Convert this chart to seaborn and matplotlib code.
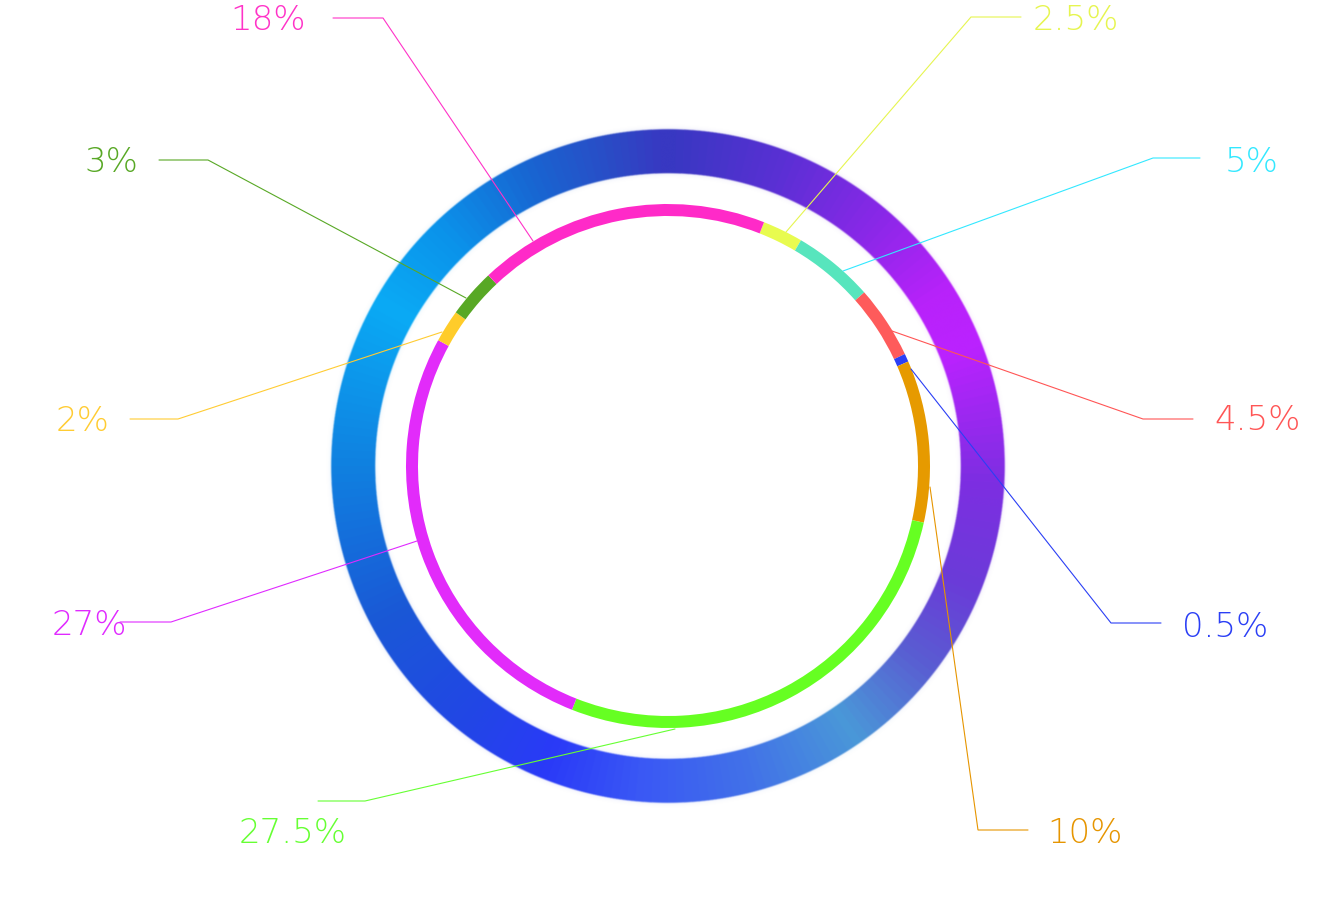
import numpy as np
import matplotlib
matplotlib.use("Agg")
import matplotlib.pyplot as plt
import seaborn as sns
from matplotlib.colors import LinearSegmentedColormap

# ---------------- data ----------------
labels = ["2.5%", "5%", "4.5%", "0.5%", "10%", "27.5%", "27%", "2%", "3%", "18%"]
values = [2.5, 5, 4.5, 0.5, 10, 27.5, 27, 2, 3, 18]
seg_colors = ["#e8fb4f", "#57e5bd", "#fe5b5b", "#2b3ff5", "#e69a00",
              "#66ff22", "#e22bfa", "#ffcc2a", "#58a825", "#ff2ac8"]
label_colors = ["#e6f550", "#33e8ff", "#ff5555", "#2b3ff5", "#e69500",
                "#66ff33", "#e02aff", "#ffcc33", "#58a825", "#ff33c8"]

# ---------------- layout (pixel space, y down) ----------------
W, H = 1341, 907
CX, CY = 668, 466
R_IN, W_IN = 262, 12
R_OUT, W_OUT = 337, 44
START_CW = 21.5  # first slice starts this many degrees clockwise from top

leader_paths = [
    [(786, 232), (971, 17), (1021, 17)],
    [(843, 271), (1153, 158), (1200, 158)],
    [(892, 331), (1143, 419), (1193, 419)],
    [(911, 369), (1111, 623), (1161, 623)],
    [(930, 487), (978, 830), (1028, 830)],
    [(675, 729), (365, 801), (318, 801)],
    [(417, 541), (171, 622), (120, 622)],
    [(442, 332), (178, 419), (130, 419)],
    [(466, 298), (208, 160), (159, 160)],
    [(533, 241), (383, 18), (333, 18)],
]
label_pos = [
    (1033, 30, "left"), (1225, 172, "left"), (1214, 430, "left"),
    (1182, 637, "left"), (1047, 843, "left"), (347, 843, "right"),
    (127, 635, "right"), (110, 431, "right"), (138, 172, "right"),
    (306, 30, "right"),
]

# gradient stops for the outer ring (clockwise angle from top, colour)
ring_stops = [(0, "#3838c2"), (20, "#5a30d4"), (40, "#8a28e8"), (57, "#b822fa"),
              (68, "#bb22ff"), (92, "#7e2ee2"), (112, "#6a3cd8"), (127, "#5a5cd2"),
              (145, "#4a98d8"), (165, "#4272e8"), (185, "#3a58f5"), (202, "#2a3af8"),
              (218, "#2246e6"), (242, "#1a58d6"), (270, "#1080e0"), (300, "#0aaaf5"),
              (317, "#0b92ea"), (335, "#1866d2"), (350, "#2a4cc6"), (360, "#3838c2")]

sns.set_theme(style="white")
plt.rcParams["font.family"] = ["DejaVu Sans"]

fig = plt.figure(figsize=(W / 100, H / 100), dpi=100)
ax = fig.add_axes([0, 0, 1, 1])
ax.set_facecolor("white")


def to_data(p):
    return (p[0], H - p[1])


cx, cy = to_data((CX, CY))

# ---- outer gradient ring with soft edges ----
cmap = LinearSegmentedColormap.from_list(
    "ring", [(a / 360.0, c) for a, c in ring_stops])
pad = 8
n = 1400
xs = np.linspace(cx - R_OUT - pad, cx + R_OUT + pad, n)
ys = np.linspace(cy - R_OUT - pad, cy + R_OUT + pad, n)
XX, YY = np.meshgrid(xs, ys)
ang = (np.degrees(np.arctan2(XX - cx, YY - cy)) + 360) % 360
rr = np.hypot(XX - cx, YY - cy)
img = cmap(ang / 360.0)
feather = 1.6
a_core = np.clip((rr - (R_OUT - W_OUT)) / feather + 0.5, 0, 1) * \
    np.clip((R_OUT - rr) / feather + 0.5, 0, 1)
halo = np.exp(-np.maximum(rr - R_OUT, 0) / 1.5) * (rr > R_OUT) * 0.12 + \
    np.exp(-np.maximum((R_OUT - W_OUT) - rr, 0) / 1.5) * (rr < R_OUT - W_OUT) * 0.12
img[..., 3] = np.clip(a_core + halo, 0, 1)
ax.imshow(img, extent=[xs[0], xs[-1], ys[0], ys[-1]], origin="lower",
          interpolation="bilinear", zorder=1)

# ---- inner segmented ring ----
ax.pie(values, colors=seg_colors, startangle=90 - START_CW, counterclock=False,
       radius=R_IN, center=(cx, cy), frame=True,
       wedgeprops=dict(width=W_IN, linewidth=0, zorder=2))

# ---- leader lines and labels ----
for path, col in zip(leader_paths, label_colors):
    pts = [to_data(p) for p in path]
    ax.plot([p[0] for p in pts], [p[1] for p in pts], color=col, lw=0.8,
            zorder=3, solid_joinstyle="miter")
for lab, col, (x, y, ha) in zip(labels, label_colors, label_pos):
    ax.text(x, H - y, lab, color=col, fontsize=24.5, ha=ha, va="baseline",
            fontweight="light", zorder=4)

ax.set_xlim(0, W)
ax.set_ylim(0, H)
ax.set_aspect("equal")
ax.axis("off")
fig.savefig("out.png", dpi=100, facecolor="white")
